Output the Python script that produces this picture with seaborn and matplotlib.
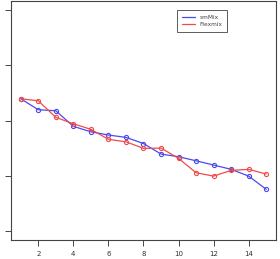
import pandas as pd
import matplotlib
matplotlib.use("Agg")
import matplotlib.pyplot as plt
from matplotlib.lines import Line2D
import seaborn as sns

# data
steps = list(range(1, 16))
smmix = [2.395, 2.196, 2.177, 1.895, 1.797, 1.738, 1.696, 1.584,
         1.394, 1.345, 1.272, 1.195, 1.117, 0.995, 0.755]
flexmix = [2.395, 2.358, 2.058, 1.942, 1.841, 1.660, 1.616, 1.497,
           1.502, 1.316, 1.055, 0.995, 1.099, 1.117, 1.032]
series_names = ["smMix", "Flexmix"]
x_ticks = [2, 4, 6, 8, 10, 12, 14]
y_ticks = [0, 1, 2, 3, 4]

df = pd.DataFrame({
    "step": steps * 2,
    "value": smmix + flexmix,
    "method": [series_names[0]] * len(steps) + [series_names[1]] * len(steps),
})

sns.set_style("ticks")
plt.rcParams["font.family"] = ["DejaVu Sans"]

fig = plt.figure(figsize=(2.8, 2.59), dpi=100)
ax = fig.add_axes([0.039, 0.073, 0.947, 0.923])

palette = {"smMix": "#4a4af0", "Flexmix": "#f04a4a"}
sns.lineplot(data=df, x="step", y="value", hue="method", palette=palette,
             marker="o", markersize=3.0, linewidth=0.9, ax=ax, legend=False)
# hollow circles in the line colour
for ln in ax.lines:
    ln.set_markerfacecolor("none")
    ln.set_markeredgecolor(ln.get_color())
    ln.set_markeredgewidth(0.8)

ax.set_xlim(0.44, 15.56)
ax.set_ylim(-0.163, 4.163)
ax.set_xticks(x_ticks)
ax.set_xticklabels([str(t) for t in x_ticks])
ax.set_yticks(y_ticks)
ax.set_yticklabels([])
ax.set_xlabel("")
ax.set_ylabel("")
ax.tick_params(axis="both", length=4.2, width=0.7, color="#444444",
               labelsize=5, labelcolor="#333333", pad=4)
for s in ax.spines.values():
    s.set_linewidth(0.8)
    s.set_color("#444444")

handles = [Line2D([], [], color=palette[n], linewidth=0.9) for n in series_names]
leg = ax.legend(handles, series_names, loc="upper left",
                bbox_to_anchor=(0.628, 0.962), fontsize=4.2, frameon=True,
                fancybox=False, edgecolor="#333333", handlelength=2.2,
                borderpad=0.8, labelspacing=0.4, handletextpad=0.8,
                borderaxespad=0)
leg.get_frame().set_linewidth(0.7)
for t in leg.get_texts():
    t.set_color("#444444")

fig.savefig("out.png", dpi=100)
